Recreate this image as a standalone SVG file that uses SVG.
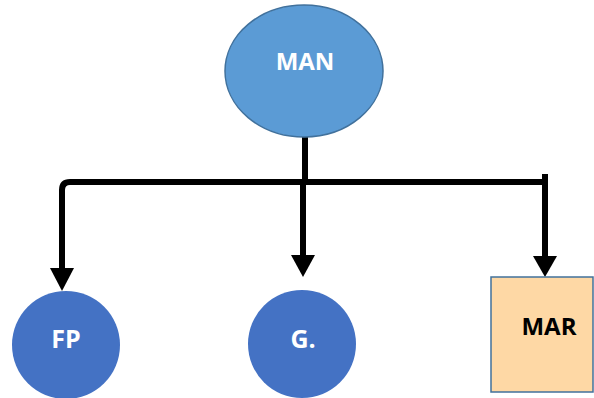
<svg xmlns="http://www.w3.org/2000/svg" width="594" height="398" viewBox="0 0 594 398">
<style>
.lbl{font-family:"Open Sans","Liberation Sans",sans-serif;font-weight:bold;text-anchor:middle;dominant-baseline:central}
.w{fill:#ffffff}
.conn{fill:none;stroke:#000;stroke-width:6}
.head{fill:#000}
</style>
<g id="connectors">
<path class="conn" d="M305,137 L305,182"/>
<path class="conn" d="M62,268 L62,190 Q62,182 70,182 L545,182"/>
<path class="head" d="M50,268 L74,268 L62,291 Z"/>
<path class="conn" d="M303,182 L303,256"/>
<path class="head" d="M291,255 L315,255 L303,277 Z"/>
<path class="conn" d="M545,174 L545,257"/>
<path class="head" d="M533,256 L557,256 L545,277 Z"/>
</g>
<g id="MAN">
<ellipse cx="304" cy="71" rx="79" ry="66" fill="#5b9bd5" stroke="#41719c" stroke-width="1.5"/>
<text class="lbl w" x="305" y="60" font-size="24">MAN</text>
</g>
<g id="FP">
<circle cx="66" cy="345" r="54" fill="#4472c4"/>
<text class="lbl w" x="66" y="338" font-size="25">FP</text>
</g>
<g id="G">
<circle cx="302" cy="344" r="54" fill="#4472c4"/>
<text class="lbl w" x="303" y="338" font-size="25">G.</text>
</g>
<g id="MAR">
<rect x="491" y="277" width="102" height="115" fill="#fed8a5" stroke="#41719c" stroke-width="1.5"/>
<text class="lbl" x="549" y="325" font-size="24" fill="#000">MAR</text>
</g>
</svg>
